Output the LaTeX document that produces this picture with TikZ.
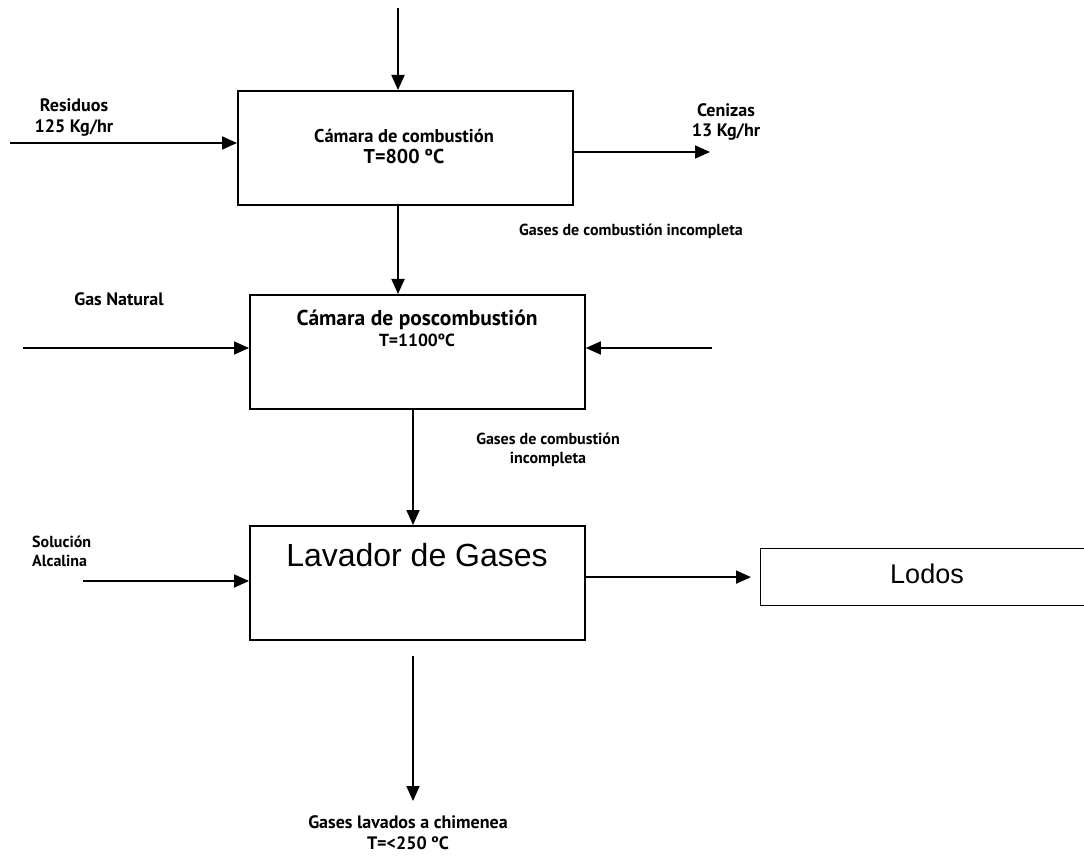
\documentclass[tikz,border=0pt]{standalone}
\usepackage{fontspec}
\setmainfont{PT Sans}
\newfontfamily\arialfont{Liberation Sans}
\usetikzlibrary{arrows.meta,positioning,calc}

\begin{document}
\begin{tikzpicture}[x=1pt,y=-1pt,
  caja/.style={draw,line width=1.8pt,minimum width=335pt,minimum height=114pt,inner sep=0pt,anchor=north west},
  flecha/.style={line width=1.8pt,-{Triangle[length=15pt,width=13pt]}},
  etiqueta/.style={font=\bfseries\fontsize{18}{21}\selectfont,align=center,inner sep=0pt},
  etiquetachica/.style={etiqueta,font=\bfseries\fontsize{16}{19}\selectfont}]
\useasboundingbox (0,0) rectangle (1084,858);

% cajas
\node[caja] (camara) at (237,90) {};
\node[caja] (poscomb) at (249,294) {};
\node[caja] (lavador) at (249,525) {};
\node[caja,line width=1.2pt,minimum width=340pt,minimum height=57pt] (lodos) at (760,548) {};

% textos de las cajas
\node[etiqueta] at (404,146) {\fontsize{18.5}{22}\selectfont Cámara de combustión\\\fontsize{20}{22}\selectfont T=800 ºC};
\node[etiqueta] at (417,328) {\fontsize{21.5}{24}\selectfont Cámara de poscombustión\\\fontsize{17.5}{24}\selectfont T=1100ºC};
\node[inner sep=0pt,font=\arialfont\fontsize{32}{36}\selectfont] at (417,555) {Lavador de Gases};
\node[inner sep=0pt,font=\arialfont\fontsize{27}{32}\selectfont] at (927,574) {Lodos};

% etiquetas de corrientes
\node[etiqueta] at (74,118) {Residuos\\125 Kg/hr};
\node[etiqueta,font=\bfseries\fontsize{18}{20}\selectfont] at (726,122) {Cenizas\\13 Kg/hr};
\node[etiquetachica] at (631,231) {Gases de combustión incompleta};
\node[etiqueta] at (119,299) {Gas Natural};
\node[etiquetachica] at (548,450) {Gases de combustión\\incompleta};
\node[etiquetachica,align=left,anchor=west] at (32,551) {Solución\\Alcalina};
\node[etiqueta,font=\bfseries\fontsize{18}{21}\selectfont] at (408,833) {Gases lavados a chimenea\\T=<250 ºC};

% flechas
\coordinate (entrada) at (398,8);
\coordinate (residuos) at (10,143);
\coordinate (cenizas) at (710,152);
\coordinate (gasnat) at (23,348);
\coordinate (aire) at (712,348);
\coordinate (solucion) at (83,581);
\coordinate (salida) at (413,656);
\coordinate (chimenea) at (413,801);

\draw[flecha] (entrada) -- (entrada |- camara.north);
\draw[flecha] (entrada |- camara.south) -- (entrada |- poscomb.north);
\draw[flecha] (residuos) -- (residuos -| camara.west);
\draw[flecha] (cenizas -| camara.east) -- (cenizas);
\draw[flecha] (gasnat) -- (gasnat -| poscomb.west);
\draw[flecha] (aire) -- (aire -| poscomb.east);
\draw[flecha] (salida |- poscomb.south) -- (salida |- lavador.north);
\draw[flecha] (solucion) -- (solucion -| lavador.west);
\draw[flecha,shorten >=9pt] (lodos.west -| lavador.east) -- (lodos.west);
\draw[flecha] (salida) -- (chimenea);
\end{tikzpicture}
\end{document}
